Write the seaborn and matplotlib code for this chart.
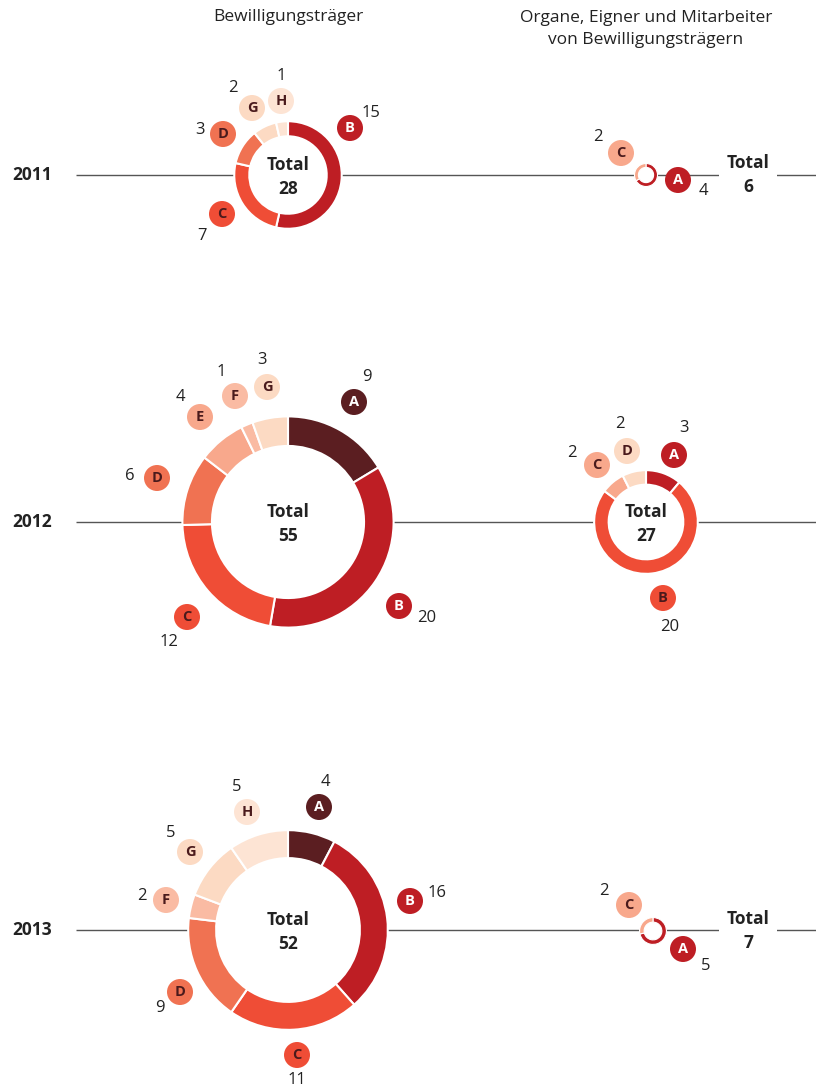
import matplotlib
matplotlib.use("Agg")
import matplotlib.pyplot as plt
from matplotlib.patches import Circle
import seaborn as sns

# ---------------- data ----------------
years = ["2011", "2012", "2013"]
col_titles = ["Bewilligungsträger", "Organe, Eigner und Mitarbeiter\nvon Bewilligungsträgern"]

left_2011_letters = ["B", "C", "D", "G", "H"]
left_2011_values = [15, 7, 3, 2, 1]
left_2012_letters = ["A", "B", "C", "D", "E", "F", "G"]
left_2012_values = [9, 20, 12, 6, 4, 1, 3]
left_2013_letters = ["A", "B", "C", "D", "F", "G", "H"]
left_2013_values = [4, 16, 11, 9, 2, 5, 5]

right_2011_letters = ["A", "C"]
right_2011_values = [4, 2]
right_2012_letters = ["A", "B", "C", "D"]
right_2012_values = [3, 20, 2, 2]
right_2013_letters = ["A", "C"]
right_2013_values = [5, 2]

# ---------------- styles ----------------
left_colors = {"A": "#5B1E21", "B": "#BE1E24", "C": "#EF4D36", "D": "#F07252",
               "E": "#F8A88C", "F": "#FABBA3", "G": "#FCDAC3", "H": "#FDE4D4"}
right_colors = {"A": "#BE1E24", "B": "#EF4D36", "C": "#F8A88C", "D": "#FCDAC3"}
dark_fills = {"#5B1E21", "#BE1E24"}
text_dark = "#222222"
letter_dark = "#4A1A1C"

sns.set_theme(style="white")
plt.rcParams["font.family"] = ["Open Sans", "DejaVu Sans"]

W, H = 816, 1088
fig = plt.figure(figsize=(W / 100, H / 100), dpi=100)
ax = fig.add_axes([0, 0, 1, 1])
ax.set_aspect("equal")


def Y(py):
    return H - py


# layout: centres (pixel), badge offsets and number offsets relative to centre
row_y = [175, 522, 930]
px_per_unit = 1.92

donuts = [
    dict(letters=left_2011_letters, values=left_2011_values, cx=288, cy=175, cmap=left_colors, inner=True,
         badges=[(62, -47), (-66, 39), (-65, -41), (-36, -67), (-7, -74)],
         nums=[(83, -62), (-86, 61), (-88, -45), (-55, -87), (-7, -99)]),
    dict(letters=left_2012_letters, values=left_2012_values, cx=288, cy=522, cmap=left_colors, inner=True,
         badges=[(66, -120), (111, 84), (-101, 95), (-131, -44), (-88, -105), (-53, -126), (-21, -135)],
         nums=[(79, -145), (139, 96), (-119, 120), (-158, -46), (-108, -125), (-67, -150), (-26, -162)]),
    dict(letters=left_2013_letters, values=left_2013_values, cx=288, cy=930, cmap=left_colors, inner=True,
         badges=[(31, -123), (122, -29), (9, 125), (-108, 62), (-122, -30), (-98, -78), (-41, -118)],
         nums=[(37, -148), (149, -37), (9, 150), (-128, 78), (-146, -34), (-117, -97), (-51, -143)]),
    dict(letters=right_2011_letters, values=right_2011_values, cx=646, cy=175, cmap=right_colors, inner=False,
         badges=[(32, 5), (-25, -22)], nums=[(57, 16), (-48, -38)]),
    dict(letters=right_2012_letters, values=right_2012_values, cx=646, cy=522, cmap=right_colors, inner=True,
         badges=[(28, -67), (17, 76), (-49, -57), (-19, -71)],
         nums=[(38, -94), (24, 105), (-74, -69), (-26, -98)]),
    dict(letters=right_2013_letters, values=right_2013_values, cx=653, cy=931, cmap=right_colors, inner=False,
         badges=[(30, 18), (-24, -26)], nums=[(53, 35), (-49, -40)]),
]

# headers
ax.text(288, Y(17), col_titles[0], ha="center", va="center", fontsize=12.5, color=text_dark)
ax.text(646, Y(29), col_titles[1], ha="center", va="center", fontsize=12.5, color=text_dark,
        linespacing=1.5)

# row lines and year labels
for yr, ry in zip(years, row_y):
    ax.plot([76, W], [Y(ry), Y(ry)], color="#555555", lw=1.0, zorder=1, solid_capstyle="butt")
    ax.text(12, Y(ry), yr, ha="left", va="center", fontsize=12.5, fontweight="bold", color=text_dark)

for d in donuts:
    total = sum(d["values"])
    r = px_per_unit * total
    if not d["inner"]:
        r = max(r, 11.5)
    width = r * (0.28 if d["inner"] else 0.34)
    cols = [d["cmap"][l] for l in d["letters"]]
    ax.add_patch(Circle((d["cx"], Y(d["cy"])), r, facecolor="white", edgecolor="none", zorder=2))
    wedges, _ = ax.pie(d["values"], colors=cols, startangle=90, counterclock=False,
                       center=(d["cx"], Y(d["cy"])), radius=r,
                       wedgeprops=dict(width=width, edgecolor="white",
                                       linewidth=1.5 if d["inner"] else 0.8))
    for w in wedges:
        w.set_zorder(3)
    if d["inner"]:
        ax.text(d["cx"], Y(d["cy"] - 10), "Total", ha="center", va="center", fontsize=12.5,
                fontweight="bold", color=text_dark, zorder=5)
        ax.text(d["cx"], Y(d["cy"] + 14), str(total), ha="center", va="center", fontsize=12.5,
                fontweight="bold", color=text_dark, zorder=5)
    else:
        ax.text(748, Y(d["cy"]), "Total\n" + str(total), ha="center", va="center", fontsize=12.5,
                fontweight="bold", color=text_dark, zorder=5, linespacing=1.45,
                bbox=dict(boxstyle="square,pad=0.45", fc="white", ec="none"))
    for letter, val, col, (bx, by), (nx, ny) in zip(d["letters"], d["values"], cols, d["badges"], d["nums"]):
        ax.add_patch(Circle((d["cx"] + bx, Y(d["cy"] + by)), 13, facecolor=col, edgecolor="none", zorder=4))
        ax.text(d["cx"] + bx, Y(d["cy"] + by), letter, ha="center", va="center", fontsize=10.5,
                fontweight="bold", color="white" if col in dark_fills else letter_dark, zorder=5)
        ax.text(d["cx"] + nx, Y(d["cy"] + ny), str(val), ha="center", va="center", fontsize=12,
                color=text_dark, zorder=5)

ax.set_xlim(0, W)
ax.set_ylim(0, H)
ax.set_aspect("equal")
ax.axis("off")
fig.savefig("out.png", dpi=100, facecolor="white")
